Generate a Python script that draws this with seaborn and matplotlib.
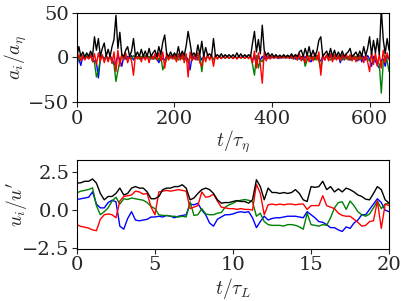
import numpy as np
import matplotlib
matplotlib.use("Agg")
import matplotlib.pyplot as plt
import seaborn as sns

# ===== data: acceleration components (top), t/tau_eta every 4 units =====
t_acc = np.arange(0, 641, 4)

a_mag = [1, 12, 1, 6, 0.5, 5, 1, 7, 1, 23,
         8, 21, 1, 10, 16, 1, 9, 1, 12, 20,
         47, 10, 28, 3, 1, 8, 12, 1, 7, 21,
         1, 6, 1, 9, 1, 7, 1, 10, 1, 5,
         8, 1, 12, 3, 17, 25, 4, 1, 6, 1,
         5, 1, 12, 1, 7, 2, 13, 29, 16, 2,
         5, 1, 14, 3, 18, 1, 11, 2, 4, 1,
         21, 1, 3, 0.5, 4, 0.5, 3, 0.5, 3, 0.5,
         3, 0.5, 5, 0.5, 4, 0.5, 3, 0.5, 3, 1,
         16, 29, 6, 20, 4, 36, 8, 2, 5, 1,
         4, 0.5, 3, 0.5, 2.5, 0.5, 3, 0.5, 2.5, 0.5,
         4, 0.5, 3, 1, 6, 8, 1, 10, 2, 12,
         1, 8, 1, 7, 19, 23, 1, 4, 7, 1,
         10, 1, 8, 1, 6, 1, 7, 1, 4, 6,
         10, 1, 3, 6, 1, 7, 1, 12, 2, 10,
         23, 3, 19, 5, 21, 3, 55, 20, 4, 21,
         8]

a_r = [-2, 3, -4, 2, -3, 1, -2, 3, -5, 4,
       -8, 5, -4, 3, -6, 2, -5, 3, -7, 6,
       -16, 8, -10, 4, -3, 5, -6, 2, -4, -20,
       3, -2, 2, -5, 3, -3, 2, -6, 3, -2,
       4, -3, 5, -4, 6, -12, 5, -3, 2, -2,
       3, -5, 4, -3, 5, -6, 4, -22, 6, -4,
       2, -3, 5, -6, -10, 3, -5, 4, -3, 2,
       -10, 3, -2, 1, -1.5, 1, -1, 1.5, -1, 1,
       -1.5, 1, -2, 1, -1, 1.5, -1, 1, -1.5, 2,
       -6, 7, -12, 5, -8, -29, 6, -4, 2, -2,
       1.5, -1, 1, -1.5, 1, -1, 1.5, -1, 1, -1.5,
       2, -2, 3, -3, 4, -4, 3, -6, 4, -5,
       3, -4, 5, -3, 6, -20, 4, -3, 3, -4,
       4, -5, 3, -3, 2, -4, 3, -2, 4, -3,
       3, -4, 2, -5, 3, -3, 4, -6, 3, -5,
       -16, 6, -8, 5, -10, 4, -12, 8, -6, 5,
       -3]

a_g = [-10, 1, -2, 1, -1, 2, -1, 1, -3, -6,
       -22, -15, -2, 2, -3, 1, -2, 2, -4, -8,
       -27, -15, -4, 2, -2, 1, -3, 1, -2, 2,
       -1, 1, -2, 1, -1, 2, -1, 1, -2, 1,
       -2, 1, -3, 2, -14, -8, -2, 1, -1, 1,
       -2, 1, -3, 1, -2, 2, -3, -5, 1, -2,
       1, -2, -3, 2, -16, 1, -2, 1, -1, 1,
       -3, 1, -1, 0.5, -0.5, 1, -0.5, 0.5, -1, 0.5,
       -0.5, 1, -1, 0.5, -0.5, 0.5, -1, 0.5, -0.5, 1,
       -8, -20, 2, -12, -3, -5, 2, -2, 1, -1,
       0.5, -1, 0.5, -0.5, 1, -0.5, 0.5, -1, 0.5, -0.5,
       1, -2, 1, -3, 2, -2, 1, -10, -3, 2,
       -2, 1, -3, 2, -4, -14, 1, -2, 2, -1,
       -3, 1, -2, 2, -1, 1, -3, 1, -2, 1,
       -3, 2, -2, 1, -3, 2, -1, -4, 1, -2,
       -4, 2, -6, 1, -5, -8, -40, -6, 2, -4,
       -16]

a_b = [1, -2, -9, 1, -2, 1, -1, 2, -2, -4,
       -6, -23, -2, 1, -2, 2, -3, 1, -1, -8,
       -5, 2, -3, -10, 1, -2, 1, -1, 2, -3,
       1, -1, 2, -2, 1, -1, 2, -1, 1, -2,
       1, -2, -6, 1, -2, -3, 1, -1, 2, -1,
       1, -2, 1, -1, 2, -2, 1, -3, -14, 1,
       -2, 1, -1, 2, -3, 1, -2, 1, -1, 1,
       -2, 0.5, -0.5, 1, -0.5, 0.5, -1, 0.5, -0.5, 0.5,
       -1, 0.5, -0.5, 1, -0.5, 0.5, -0.5, 1, -0.5, 0.5,
       -3, 1, -8, 2, -3, 1, -2, 1, -1, 0.5,
       -0.5, 1, -0.5, 0.5, -1, 0.5, -0.5, 1, -0.5, 0.5,
       -1, 1, -2, 1, -2, 1, -3, 1, -2, -3,
       -5, 1, -2, 2, -3, -4, 1, -3, 2, -2,
       1, -3, 2, -2, 1, -6, 2, -3, 1, -2,
       -3, 1, -2, 1, -4, 2, -5, 1, -3, 2,
       -2, -10, 1, -4, -9, -12, -3, -2, -10, 1,
       -2]

# ===== data: velocity components (bottom), t/tau_L every 0.25 =====
t_vel = np.arange(0, 20.01, 0.25)

u_mag = [1.78, 1.8, 1.9, 1.9, 2.05, 1.78, 1.1, 0.68, 0.9, 0.9,
         1.1, 1.45, 1.0, 1.1, 1.45, 1.55, 1.45, 1.45, 1.2, 0.75,
         0.75, 0.9, 1.35, 1.45, 1.45, 1.55, 1.55, 1.67, 1.45, 0.68,
         0.8, 1.1, 1.35, 1.45, 1.35, 1.1, 0.68, 0.46, 0.5, 0.5,
         0.57, 0.63, 0.57, 0.57, 0.46, 0.68, 2.0, 1.55, 0.68, 1.45,
         1.16, 1.16, 1.1, 1.16, 1.1, 1.16, 1.35, 1.1, 0.68, 0.57,
         1.55, 1.5, 1.55, 1.9, 1.35, 1.55, 1.2, 1.4, 1.2, 1.45,
         1.35, 1.2, 1.0, 0.9, 0.72, 0.68, 1.1, 1.55, 1.35, 0.68,
         0.46]

u_r = [-0.96, -1.07, -1.12, -1.18, -1.3, -1.35, -0.6, -0.3, -0.25, -0.3,
       -0.5, 0.6, 0.9, 0.95, 1.0, 1.25, 1.2, 1.05, 1.1, 0.2,
       -0.3, 1.2, 1.25, 1.3, 1.25, 1.3, 1.35, 1.3, 1.25, 0.1,
       0.2, 0.3, 1.2, 0.85, 0.9, 1.05, 0.6, 0.2, 0.15, 0.1,
       0.1, 0.05, 0.1, 0.05, 0.05, 0.0, 1.7, 1.1, -0.3, 0.35,
       0.4, 0.35, 0.4, 0.35, 0.4, 0.4, 0.35, 0.4, 0.4, 0.05,
       0.3, 0.3, 0.3, 0.95, 0.3, 0.2, 0.1, -0.2, -0.35, -0.4,
       -0.4, -0.6, -0.8, -1.05, -1.0, -0.75, -0.7, 0.6, -1.2, 0.4,
       0.3]

u_g = [1.14, 1.25, 1.3, 1.36, 1.47, 0.3, -0.3, -0.1, 0.15, 0.6,
       0.85, 0.4, 0.75, 0.7, 0.8, 0.75, 0.7, 0.65, 0.5, 0.25,
       0.1, -0.3, -0.35, -0.35, -0.4, -0.4, -0.45, -0.4, -0.45, 0.55,
       -0.35, -0.3, 0.1, -0.25, -0.3, -0.3, -0.2, -0.15, 0.2, 0.35,
       0.45, 0.6, 0.65, 0.7, 0.65, 0.55, -0.4, -0.2, -0.75, -0.95,
       -1.0, -1.0, -1.0, -1.05, -0.95, -0.95, -1.0, -1.1, -1.25, -0.2,
       -0.95, -1.0, -1.05, -0.95, -1.0, -0.5, 0.15, 0.5, 0.55, 0.05,
       0.6, 0.3, -0.1, -0.3, -0.4, -0.25, 0.15, 0.6, 0.1, 0.4,
       0.45]

u_b = [0.7, 0.75, 0.8, 0.85, 1.2, 0.4, 0.15, 0.15, 0.5, 0.65,
       0.55, -1.05, -1.25, -0.55, -0.1, -0.65, -0.7, -0.65, -0.6, -0.45,
       -0.45, -0.4, -0.45, -0.35, -0.4, -0.5, -0.4, -0.35, -0.3, 0.4,
       0.35, 0.45, 0.0, -0.3, -0.85, -1.05, -0.6, -0.45, -0.3, -0.3,
       -0.25, -0.15, -0.1, -0.15, -0.1, -0.5, -1.15, -0.75, -0.4, -0.65,
       -0.55, -0.5, -0.5, -0.45, -0.4, -0.4, -0.4, -0.45, -0.5, -0.1,
       -0.3, -0.5, -0.75, -0.8, -0.95, -1.15, -1.15, -1.3, -1.4, -1.1,
       -1.2, -0.85, -0.65, -0.3, -0.3, 0.05, 0.4, 0.75, 0.5, 0.0,
       -0.1]

# ===== style =====
sns.set_style("ticks")
plt.rcParams['font.family'] = 'serif'
plt.rcParams['mathtext.fontset'] = 'cm'
plt.rcParams['font.size'] = 14

fig = plt.figure(figsize=(4.07, 3.01), dpi=100)
ax1 = fig.add_axes([0.189, 0.661, 0.767, 0.297])
ax2 = fig.add_axes([0.189, 0.174, 0.767, 0.294])

# top panel
for y, c in [(a_b, 'b'), (a_g, 'g'), (a_r, 'r'), (a_mag, 'k')]:
    sns.lineplot(x=t_acc, y=y, color=c, lw=1, ax=ax1)
ax1.set_xlim(0, 640)
ax1.set_ylim(-50, 50)
ax1.set_xticks([0, 200, 400, 600])
ax1.set_yticks([-50, 0, 50])
ax1.set_xlabel(r'$t/\tau_\eta$', fontsize=14, labelpad=1)
ax1.set_ylabel(r'$a_i/a_\eta$', fontsize=14)

# bottom panel
for y, c in [(u_b, 'b'), (u_g, 'g'), (u_r, 'r'), (u_mag, 'k')]:
    sns.lineplot(x=t_vel, y=y, color=c, lw=1, ax=ax2)
ax2.set_xlim(0, 20)
ax2.set_ylim(-2.53, 3.29)
ax2.set_xticks([0, 5, 10, 15, 20])
ax2.set_yticks([-2.5, 0.0, 2.5])
ax2.set_xlabel(r'$t/\tau_L$', fontsize=14, labelpad=1)
ax2.set_ylabel(r"$u_i/u'$", fontsize=14)

for ax in (ax1, ax2):
    ax.tick_params(labelsize=14, length=3.5, pad=2)
    ax.yaxis.set_label_coords(-0.155, 0.5)
    for s in ax.spines.values():
        s.set_color('black')
        s.set_linewidth(0.8)

fig.savefig("out.png", dpi=100)
